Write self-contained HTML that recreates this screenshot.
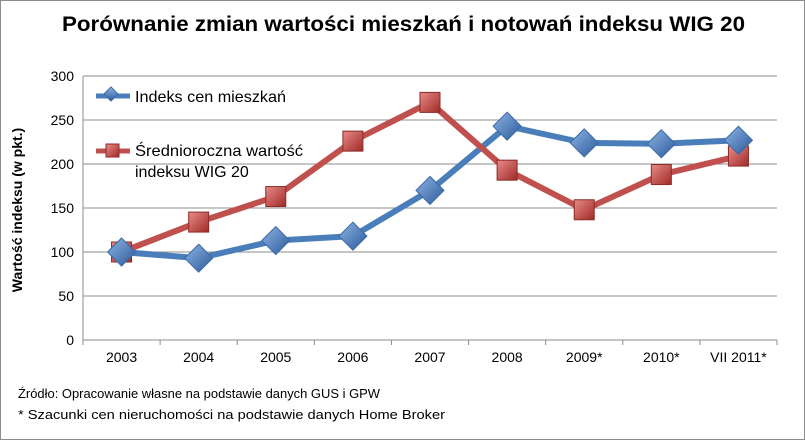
<!DOCTYPE html>
<html><head><meta charset="utf-8"><style>
body{margin:0;background:#fff;}
svg{display:block;font-family:"Liberation Sans","DejaVu Sans",sans-serif;}
</style></head><body>
<svg id="chart" width="805" height="440" viewBox="0 0 805 440">
<defs>
<linearGradient id="gb" x1="0" y1="0" x2="1" y2="1"><stop offset="0" stop-color="#8fb4e3"/><stop offset="1" stop-color="#2a5a9a"/></linearGradient>
<linearGradient id="gr" x1="0" y1="0" x2="1" y2="1"><stop offset="0" stop-color="#e88b88"/><stop offset="1" stop-color="#a02a26"/></linearGradient>
</defs>
<rect x="0.5" y="0.5" width="804" height="439" fill="#fff" stroke="#8c8c8c"/>
<text x="62" y="31" textLength="683" lengthAdjust="spacingAndGlyphs" font-size="21" font-weight="bold" fill="#000">Porównanie zmian wartości mieszkań i notowań indeksu WIG 20</text>
<text transform="translate(22,210) rotate(-90)" text-anchor="middle" font-size="14" font-weight="bold">Wartość indeksu (w pkt.)</text>
<g id="grid"></g><g id="series"></g>
<g>
<line x1="96" y1="96" x2="130" y2="96" stroke="#4a7ebb" stroke-width="5"/>
<rect x="106" y="89" width="10" height="10" transform="rotate(45 111 94)" fill="url(#gb)" stroke="#3a6aa8"/>
<text x="135" y="102" textLength="151" lengthAdjust="spacingAndGlyphs" font-size="16">Indeks cen mieszkań</text>
<line x1="96" y1="151" x2="130" y2="151" stroke="#c0504d" stroke-width="5"/>
<rect x="106" y="144" width="13" height="13" fill="url(#gr)" stroke="#8c2a27"/>
<text x="135" y="156" textLength="168" lengthAdjust="spacingAndGlyphs" font-size="16">Średnioroczna wartość</text>
<text x="135" y="177" font-size="16">indeksu WIG 20</text>
</g>
<text x="18" y="398" textLength="362" lengthAdjust="spacingAndGlyphs" font-size="13">Źródło: Opracowanie własne na podstawie danych GUS i GPW</text>
<text x="18" y="419" textLength="427" lengthAdjust="spacingAndGlyphs" font-size="13">* Szacunki cen nieruchomości na podstawie danych Home Broker</text>
</svg>
<script>
const categories=["2003","2004","2005","2006","2007","2008","2009*","2010*","VII 2011*"];
const housing=[100,93,113,118,170,243,224,223,227];
const wig20=[100,134,163,226,270,193,148,188,209];
const yTicks=[0,50,100,150,200,250,300];
const L=83,R=777,T=76,B=340,yMax=300;
const band=(R-L)/categories.length;
const xs=i=>L+band*(i+0.5);
const ys=v=>B-(v/yMax)*(B-T);
const NS="http://www.w3.org/2000/svg";
function mk(t,a,p){const e=document.createElementNS(NS,t);for(const k in a)e.setAttribute(k,a[k]);p.appendChild(e);return e;}
const g=document.getElementById('grid'),s=document.getElementById('series');
yTicks.forEach(v=>{
 const l=mk('line',{x1:L,x2:R,y1:ys(v),y2:ys(v),stroke:'#8c8c8c'},g);
 
 
 const t=mk('text',{x:L-9,y:ys(v)+5,'text-anchor':'end','font-size':14},g);t.textContent=v;
 
 
});
mk('line',{x1:L,x2:L,y1:T,y2:B,stroke:'#8c8c8c'},g);
categories.forEach((c,i)=>{
 const x=L+band*(i+1);
 mk('line',{x1:x,x2:x,y1:B,y2:B+5,stroke:'#8c8c8c'},g);
 const t=mk('text',{x:xs(i),y:B+22,'text-anchor':'middle','font-size':14},g);t.textContent=c;
 
 
});
mk('line',{x1:L,x2:L,y1:B,y2:B+5,stroke:'#8c8c8c'},g);
function line(d,col,name){
 const p=mk('polyline',{points:d.map((v,i)=>xs(i)+','+ys(v)).join(' '),fill:'none',stroke:col,'stroke-width':6,'stroke-linejoin':'round'},s);
 
 
}
line(housing,'#4a7ebb','housing-line');
line(wig20,'#c0504d','wig20-line');
wig20.forEach((v,i)=>{
 const r=mk('rect',{x:xs(i)-10,y:ys(v)-10,width:20,height:20,fill:'url(#gr)',stroke:'#8c2a27'},s);
 
 
});
housing.forEach((v,i)=>{
 const x=xs(i),y=ys(v);
 const r=mk('polygon',{points:`${x},${y-14} ${x+14},${y} ${x},${y+14} ${x-14},${y}`,fill:'url(#gb)',stroke:'#3a6aa8'},s);
 
 
});
</script>
</body></html>
